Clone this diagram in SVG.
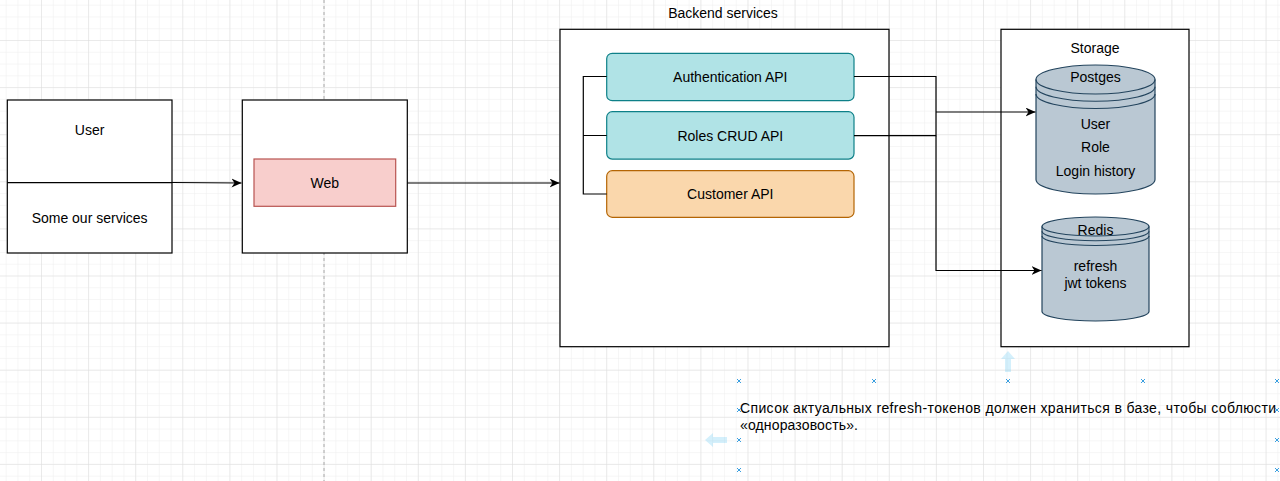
<svg xmlns="http://www.w3.org/2000/svg" width="1280" height="481" viewBox="0 0 1280 481">
  <defs>
    <pattern id="minor" x="41" y="40" width="11.775" height="11.775" patternUnits="userSpaceOnUse">
      <path d="M0,0 V11.775 M0,0 H11.775" fill="none" stroke="#eeeeee" stroke-width="1"/>
    </pattern>
    <pattern id="major" x="41" y="40" width="47.1" height="47.1" patternUnits="userSpaceOnUse">
      <path d="M0,0 V47.1 M0,0 H47.1" fill="none" stroke="#dddddd" stroke-width="1"/>
    </pattern>
    <marker id="arrow" markerUnits="userSpaceOnUse" markerWidth="12" markerHeight="10" refX="10" refY="4.5" orient="auto" viewBox="0 0 12 10">
      <path d="M0,0 L10,4.5 L0,9 L3,4.5 Z" fill="#000"/>
    </marker>
  </defs>
  <style>
    .box { fill: #fff; stroke: #000; stroke-width: 1.2; }
    .api { stroke-width: 1.2; }
    .cyl { fill: #bac8d3; stroke: #23445d; stroke-width: 1.2; }
    .cylline { fill: none; stroke: #23445d; stroke-width: 1.2; }
    .edge { fill: none; stroke: #000; stroke-width: 1.2; }
    text { font-family: "Liberation Sans", Arial, Helvetica, sans-serif; font-size: 14px; fill: #000; }
    .c { text-anchor: middle; }
    .cross { stroke: #3a9fe0; stroke-width: 1; fill: none; }
    .hover { fill: #29b6f2; opacity: 0.2; }
  </style>

  <rect x="0" y="0" width="1280" height="481" fill="#fff"/>
  <rect x="0" y="0" width="1280" height="481" fill="url(#minor)"/>
  <rect x="0" y="0" width="1280" height="481" fill="url(#major)"/>
  <line x1="324" y1="0" x2="324" y2="481" stroke="#aaaaaa" stroke-width="1" stroke-dasharray="3 3"/>

  <g id="user">
    <rect class="box" x="7.3" y="100" width="164.7" height="153"/>
    <line x1="7.3" y1="182.7" x2="172" y2="182.7" stroke="#000" stroke-width="1.2"/>
    <text class="c" x="89.6" y="135">User</text>
    <text class="c" x="89.6" y="223">Some our services</text>
  </g>

  <g id="web-container">
    <rect class="box" x="242.3" y="100" width="165" height="153"/>
  </g>
  <g id="web">
    <rect x="254" y="159" width="141.7" height="47.3" fill="#f8cecc" stroke="#b85450" stroke-width="1.2"/>
    <text class="c" x="324.8" y="187.5">Web</text>
  </g>

  <g id="backend">
    <text class="c" x="723" y="18">Backend services</text>
    <rect class="box" x="560" y="29.3" width="329" height="317.4"/>
  </g>
  <g id="auth-api">
    <rect class="api" x="606.7" y="53.3" width="247.3" height="47.4" rx="5.5" fill="#b0e3e6" stroke="#0e8088"/>
    <text class="c" x="730.3" y="82">Authentication API</text>
  </g>
  <g id="roles-api">
    <rect class="api" x="606.7" y="111.7" width="247.3" height="47.4" rx="5.5" fill="#b0e3e6" stroke="#0e8088"/>
    <text class="c" x="730.3" y="140.5">Roles CRUD API</text>
  </g>
  <g id="customer-api">
    <rect class="api" x="606.7" y="170.7" width="247.3" height="46.6" rx="5.5" fill="#fad7ac" stroke="#b46504"/>
    <text class="c" x="730.3" y="199.2">Customer API</text>
  </g>

  <g id="storage">
    <rect class="box" x="1001" y="29.3" width="188" height="317.4"/>
    <text class="c" x="1095" y="53">Storage</text>
  </g>
  <g id="postgres">
    <path class="cyl" d="M1036,79.5 A59.5,14.5 0 0 1 1155,79.5 V179.5 A59.5,14.5 0 0 1 1036,179.5 Z"/>
    <path class="cylline" d="M1036,79.5 A59.5,14.5 0 0 0 1155,79.5 M1036,86.75 A59.5,14.5 0 0 0 1155,86.75 M1036,94 A59.5,14.5 0 0 0 1155,94"/>
    <text class="c" x="1095.5" y="82">Postges</text>
    <text class="c" x="1095.5" y="129">User</text>
    <text class="c" x="1095.5" y="152">Role</text>
    <text class="c" x="1095.5" y="176">Login history</text>
  </g>
  <g id="redis">
    <path class="cyl" d="M1042,226.5 A53.5,9.5 0 0 1 1149,226.5 V311.5 A53.5,9.5 0 0 1 1042,311.5 Z"/>
    <path class="cylline" d="M1042,226.5 A53.5,9.5 0 0 0 1149,226.5 M1042,231.25 A53.5,9.5 0 0 0 1149,231.25 M1042,236 A53.5,9.5 0 0 0 1149,236"/>
    <text class="c" x="1095.5" y="235">Redis</text>
    <text class="c" x="1095.5" y="271">refresh</text>
    <text class="c" x="1095.5" y="288">jwt tokens</text>
  </g>

  <g id="note">
    <text x="740" y="413" textLength="536" lengthAdjust="spacing">Список актуальных refresh-токенов должен храниться в базе, чтобы соблюсти</text>
    <text x="740" y="430" textLength="118" lengthAdjust="spacing">«одноразовость».</text>
  </g>

  <g id="connectors">
    <path class="edge" d="M172,182.5 L241.5,183" marker-end="url(#arrow)"/>
    <path class="edge" d="M407.3,183 L559.5,183" marker-end="url(#arrow)"/>
    <path class="edge" d="M606.7,76.5 H583.3 V194 H606.7 M583.3,135.5 H606.7"/>
    <path class="edge" d="M854,76.5 H936 V112"/>
    <path class="edge" d="M854,135.7 H936 V112"/>
    <path class="edge" d="M936,112 H1035.5" marker-end="url(#arrow)"/>
    <path class="edge" d="M936,135.7 V270.5 H1041.5" marker-end="url(#arrow)"/>
  </g>

  <g id="selection-handles">
    <path class="hover" d="M1008,351 L1015,359 L1011,359 L1011,372 L1005,372 L1005,359 L1001,359 Z"/>
    <path class="hover" d="M705,440 L713,433 L713,437 L727,437 L727,443 L713,443 L713,447 Z"/>
    <path class="cross" d="M737,379 l4,4 m0,-4 l-4,4 M872,379 l4,4 m0,-4 l-4,4 M1006,379 l4,4 m0,-4 l-4,4 M1141,379 l4,4 m0,-4 l-4,4 M1275,379 l4,4 m0,-4 l-4,4 M737,408 l4,4 m0,-4 l-4,4 M737,438 l4,4 m0,-4 l-4,4 M737,468 l4,4 m0,-4 l-4,4 M1275,408 l4,4 m0,-4 l-4,4 M1275,438 l4,4 m0,-4 l-4,4 M1275,468 l4,4 m0,-4 l-4,4"/>
  </g>
</svg>
